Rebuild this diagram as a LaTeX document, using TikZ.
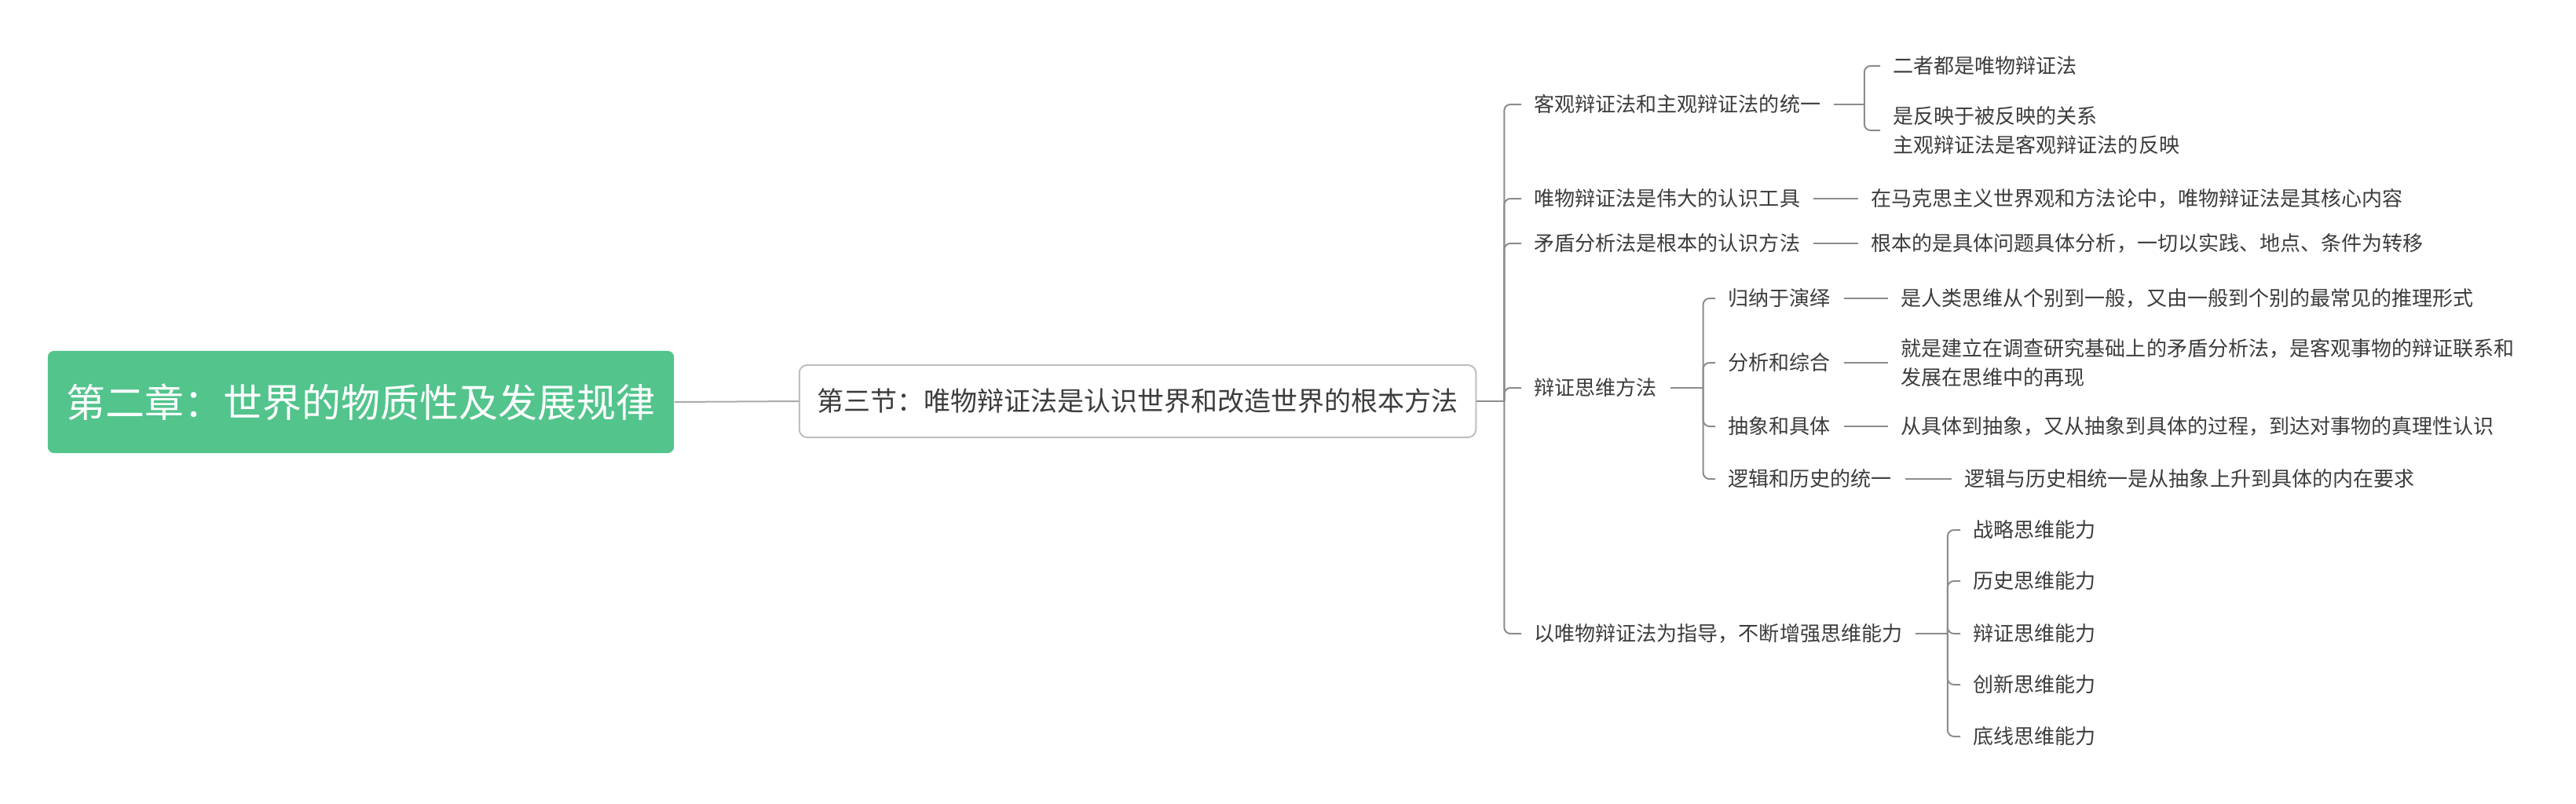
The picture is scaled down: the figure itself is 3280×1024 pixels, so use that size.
\documentclass[tikz,border=0pt]{standalone}
\usepackage{fontspec}
\setmainfont{Noto Sans CJK SC}
\definecolor{rootgreen}{HTML}{52C48C}
\definecolor{linegray}{HTML}{8C8C8C}
\definecolor{rootline}{HTML}{ABABAB}
\definecolor{txtgray}{HTML}{3C3C3C}

\begin{document}
\begin{tikzpicture}
  [x=0.01cm,y=-0.01cm,
   every node/.style={text=txtgray,inner xsep=0.16cm,inner ysep=0.05cm,anchor=west,align=left,
     font=\fontsize{7.4}{10.5}\selectfont},
   link/.style={draw=linegray,line width=0.02cm,rounded corners=0.08cm}]
  \useasboundingbox (0,0) rectangle (3280,1024);

  \node[anchor=center,fill=rootgreen,text=white,rounded corners=0.08cm,minimum width=7.97cm,
    minimum height=1.3cm,font=\fontsize{14.2}{17}\selectfont] (root) at (459.5,512) {第二章：世界的物质性及发展规律};
  \node[anchor=center,draw=black!25,line width=0.02cm,rounded corners=0.1cm,minimum width=8.61cm,
    minimum height=0.92cm,font=\fontsize{9.67}{12}\selectfont] (sec) at (1448.5,511) {第三节：唯物辩证法是认识世界和改造世界的根本方法};

  \node (k1) at (1937,133) {客观辩证法和主观辩证法的统一};
  \node (k2) at (1937,253) {唯物辩证法是伟大的认识工具};
  \node (k3) at (1937,310) {矛盾分析法是根本的认识方法};
  \node (k4) at (1937,494) {辩证思维方法};
  \node (k5) at (1937,807) {以唯物辩证法为指导，不断增强思维能力};

  \node (a1) at (2394,84)  {二者都是唯物辩证法};
  \node (a2) at (2394,166) {是反映于被反映的关系\\主观辩证法是客观辩证法的反映};

  \node (b2) at (2366,253) {在马克思主义世界观和方法论中，唯物辩证法是其核心内容};
  \node (b3) at (2366,310) {根本的是具体问题具体分析，一切以实践、地点、条件为转移};

  \node (c1) at (2184,380) {归纳于演绎};
  \node (c2) at (2184,462) {分析和综合};
  \node (c3) at (2184,543) {抽象和具体};
  \node (c4) at (2184,610) {逻辑和历史的统一};

  \node (d1) at (2404,380) {是人类思维从个别到一般，又由一般到个别的最常见的推理形式};
  \node (d2) at (2404,462) {就是建立在调查研究基础上的矛盾分析法，是客观事物的辩证联系和\\发展在思维中的再现};
  \node (d3) at (2404,543) {从具体到抽象，又从抽象到具体的过程，到达对事物的真理性认识};
  \node (d4) at (2485,610) {逻辑与历史相统一是从抽象上升到具体的内在要求};

  \node (e1) at (2496,675) {战略思维能力};
  \node (e2) at (2496,740) {历史思维能力};
  \node (e3) at (2496,807) {辩证思维能力};
  \node (e4) at (2496,872) {创新思维能力};
  \node (e5) at (2496,938) {底线思维能力};

  % spines
  \coordinate (s0) at ([xshift=0.35cm]sec.east);
  \coordinate (s1) at ([xshift=0.39cm]k1.east);
  \coordinate (s4) at ([xshift=0.42cm]k4.east);
  \coordinate (s5) at ([xshift=0.41cm]k5.east);

  \draw[rootline,line width=0.02cm] (root.east) -- (sec.west);
  \foreach \from/\to in {sec/s0,k1/s1,k4/s4,k5/s5,k2/b2,k3/b3,c1/d1,c2/d2,c3/d3,c4/d4}
    \draw[link] (\from.east) -- (\to);
  \foreach \from/\to in {s0/k1,s0/k2,s0/k3,s0/k4,s0/k5,s1/a1,s1/a2,s4/c1,s4/c2,s4/c3,s4/c4,
    s5/e1,s5/e2,s5/e3,s5/e4,s5/e5}
    \draw[link] (\from) |- (\to.west);

\end{tikzpicture}
\end{document}
